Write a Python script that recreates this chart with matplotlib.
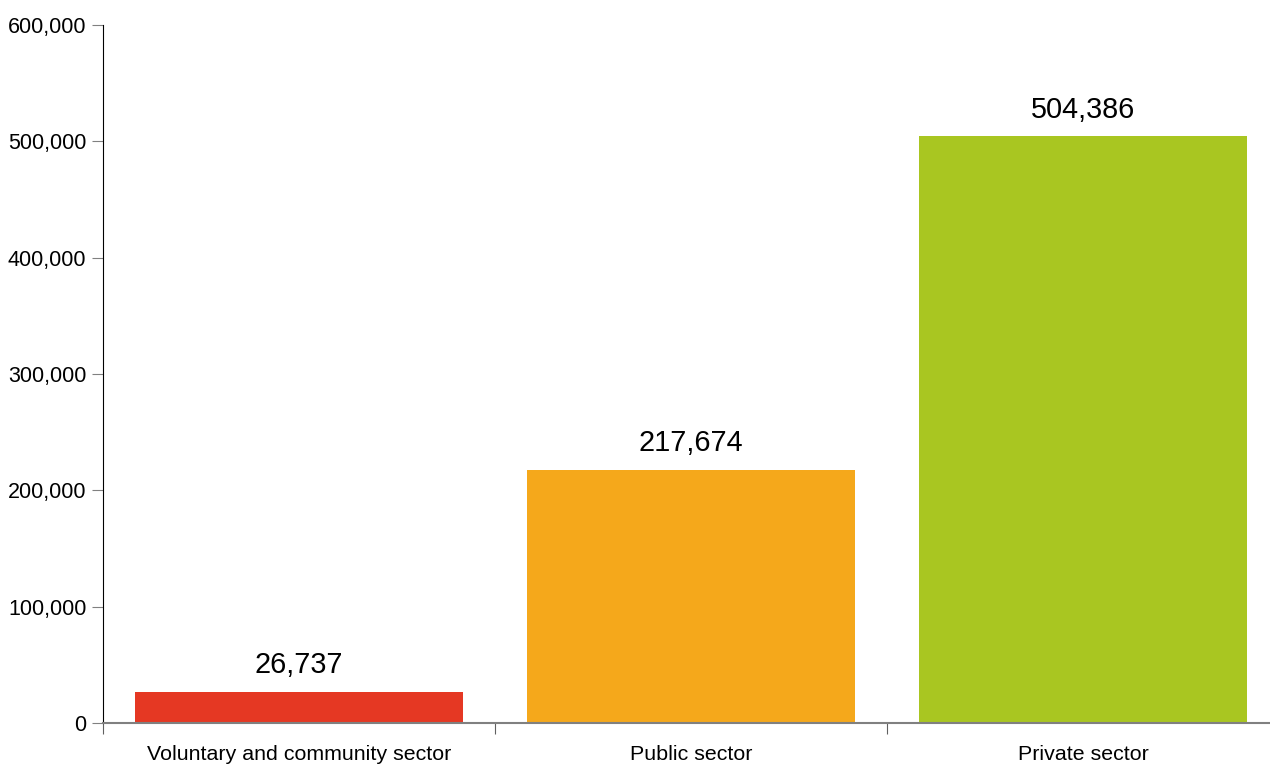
import matplotlib.pyplot as plt

plt.rcParams['font.family'] = ['Liberation Sans', 'DejaVu Sans']

# Data
sectors = ['Voluntary and community sector', 'Public sector', 'Private sector']
values = [26737, 217674, 504386]
colors = ['#E53823', '#F5A81B', '#A9C621']
yticks = [0, 100000, 200000, 300000, 400000, 500000, 600000]

fig = plt.figure(figsize=(12.7, 7.65), dpi=100)
ax = fig.add_axes([103 / 1270, 1 - 723 / 765, 1176 / 1270, (723 - 25) / 765])

x = range(len(sectors))
bars = ax.bar(x, values, width=0.837, color=colors, zorder=2)

for xi, v in zip(x, values):
    ax.annotate(f'{v:,}', (xi, v), xytext=(0, 9), textcoords='offset points',
                ha='center', va='bottom', fontsize=20.8, color='black')

ax.set_xlim(-0.5, 2.5)
ax.set_ylim(0, 600000)
ax.set_yticks(yticks)
ax.set_yticklabels([f'{t:,}' for t in yticks], fontsize=15.5)
ax.tick_params(axis='y', length=8, color='#808080', pad=4)

# category labels, tick marks between categories
ax.set_xticks([-0.5, 0.5, 1.5, 2.5])
ax.set_xticklabels([])
ax.set_xticks(list(x), minor=True)
ax.set_xticklabels(sectors, minor=True, fontsize=15.4)
ax.tick_params(axis='x', which='major', length=8, color='#606060', direction='out')
ax.tick_params(axis='x', which='minor', length=0, pad=16)

ax.spines['top'].set_visible(False)
ax.spines['right'].set_visible(False)
ax.spines['left'].set_color('black')
ax.spines['bottom'].set_color('#808080')
ax.spines['bottom'].set_linewidth(1.5)
ax.spines['bottom'].set_zorder(3)

fig.savefig('out.png', dpi=100)
